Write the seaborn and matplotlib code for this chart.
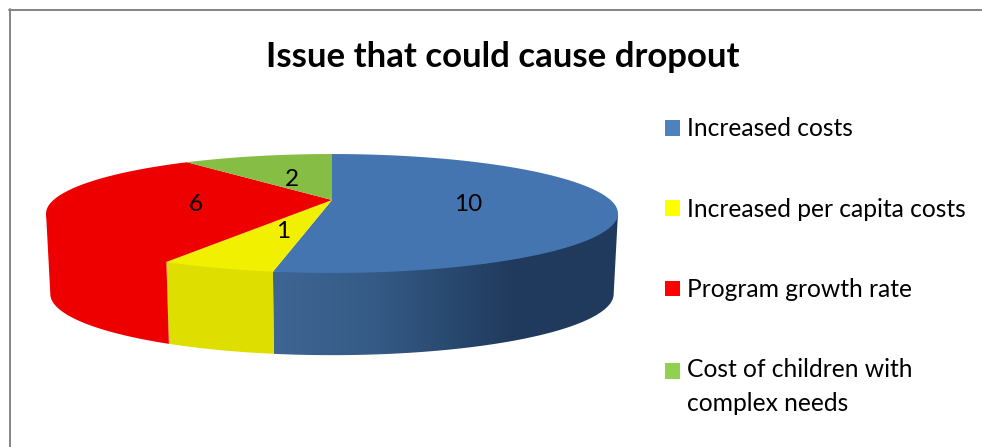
import numpy as np
import seaborn as sns
import matplotlib
matplotlib.use("Agg")
import matplotlib.pyplot as plt
from matplotlib.colors import LinearSegmentedColormap
from matplotlib.lines import Line2D
from matplotlib.patches import Patch, Polygon
from matplotlib.path import Path
from matplotlib.transforms import Transform

categories = ["Increased costs", "Increased per capita costs",
              "Program growth rate", "Cost of children with\ncomplex needs"]
values = [10, 1, 6, 2]
top_colors = ["#4475B1", "#F0F000", "#EE0000", "#85BD45"]
side_colors = ["#3A5F8E", "#DEDE00", "#EE0000", "#6E9C3A"]
legend_colors = ["#4F81BD", "#FFFF00", "#FF0000", "#92D050"]

sns.set_theme(style="white")
plt.rcParams["font.family"] = ["Lato", "DejaVu Sans"]

W, H = 982, 447
CX, CY = 332.0, 200.0
RX, RY, K = 278.5, 56.4, 0.227
DEPTH, SX, SY = 80.0, 0.985, 1.03


class Tilt(Transform):
    """Perspective view of the unit pie disc, in pixel coordinates."""
    input_dims = output_dims = 2
    has_inverse = False

    def __init__(self, drop=0.0, sx=1.0, sy=1.0):
        super().__init__()
        self.drop, self.sx, self.sy = drop, sx, sy

    def transform_non_affine(self, pts):
        pts = np.asarray(pts, float)
        w = 1 + K * pts[:, 1]
        return np.column_stack([CX + self.sx * RX * pts[:, 0] / w,
                                CY + self.drop - self.sy * RY * pts[:, 1] / w])

    def transform_path_non_affine(self, path):
        big = Path(path.vertices * 1000, path.codes)
        poly = big.to_polygons(closed_only=True)[0] / 1000
        return Path(self.transform_non_affine(poly), closed=True)


fig = plt.figure(figsize=(W / 100, H / 100), dpi=100, facecolor="white")
ax = fig.add_axes([0, 0, 1, 1])

wedges, label_texts = ax.pie(values, startangle=90, counterclock=False,
                             colors=top_colors, labels=[str(v) for v in values],
                             labeldistance=0.485,
                             wedgeprops=dict(linewidth=0, zorder=5),
                             textprops=dict(fontsize=17.5, color="black", zorder=6))
ax.set_aspect("auto")
ax.set_xlim(0, W)
ax.set_ylim(H, 0)
ax.axis("off")

top_view = Tilt()
low_view = Tilt(DEPTH, SX, SY)
label_view = Tilt(2.5)
for w in wedges:
    w.set_transform(top_view + ax.transData)
for t in label_texts:
    t.set_transform(label_view + ax.transData)
    t.set_ha("center")
    t.set_va("center")


def strip(theta1, theta2):
    """Outer wall of a slice; its upper edge tucks just under the top face."""
    a = np.radians(np.linspace(theta1, theta2, 200))
    unit = np.column_stack([np.cos(a), np.sin(a)])
    tuck = 1 - 0.015 * np.sin(np.linspace(0, np.pi, 200)) ** 0.25
    return np.vstack([top_view.transform_non_affine(unit * tuck[:, None]),
                      low_view.transform_non_affine(unit)[::-1]])


# walls follow the wedge angles that pie computed, up to the disc's silhouette
phi = np.degrees(np.arcsin(K))
blue, yellow, red, _ = wedges
blue_poly = Polygon(strip(blue.theta1, -phi), closed=True,
                    transform=ax.transData, facecolor="none", edgecolor="none")
ax.add_patch(blue_poly)
ramp = LinearSegmentedColormap.from_list(
    "wall", [(0, "#3F6693"), (0.3, "#345A85"), (0.7, "#203A5C"), (1, "#1F3B5E")])
im = ax.imshow(np.linspace(0, 1, 256)[None, :], extent=(273, 618, 360, 200),
               aspect="auto", cmap=ramp, zorder=2)
im.set_clip_path(blue_poly)
ax.fill(*strip(yellow.theta1, yellow.theta2).T, color=side_colors[1], lw=0, zorder=2)
ax.fill(*strip(-180 + phi, red.theta2).T, color=side_colors[2], lw=0, zorder=2)
ax.set_xlim(0, W)
ax.set_ylim(H, 0)

fig.text(502.5 / W, 1 - 57 / H, "Issue that could cause dropout", ha="center",
         va="center", fontsize=25, fontweight="bold", color="black")

handles = [Patch(facecolor=c, edgecolor="none") for c in legend_colors]
leg = fig.legend(handles, categories, loc="upper left",
                 bbox_to_anchor=(665 / W, 1 - 117.5 / H), frameon=False, fontsize=17.7,
                 handlelength=0.61, handleheight=0.61, handletextpad=0.28,
                 labelspacing=2.33, borderpad=0, borderaxespad=0, labelcolor="black")
for t in leg.get_texts():
    t.set_linespacing(1.55)
last = leg.legend_handles[-1]
last.set_y(last.get_y() + 11.9)

frame = "#868686"
fig.add_artist(Line2D([10 / W, 10 / W], [0, 1 - 9 / H], color=frame, lw=1.44,
                      transform=fig.transFigure))
fig.add_artist(Line2D([9 / W, 1], [1 - 10 / H, 1 - 10 / H], color=frame, lw=1.44,
                      transform=fig.transFigure))

fig.savefig("out.png", dpi=100, facecolor="white")
